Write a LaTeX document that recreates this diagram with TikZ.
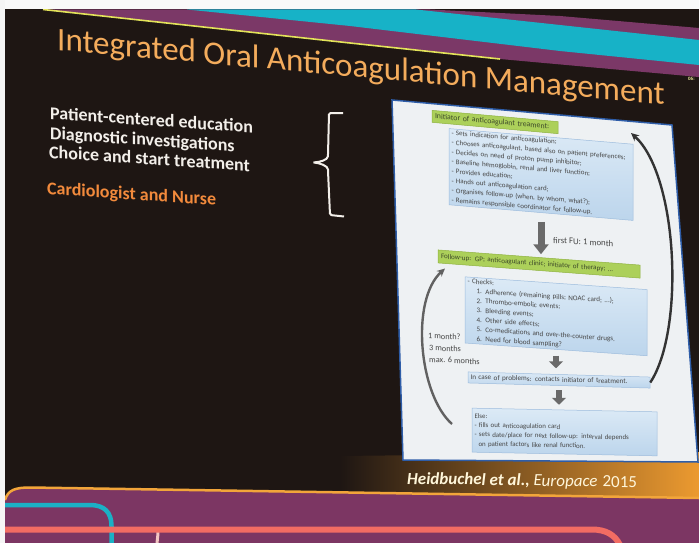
\documentclass[tikz,border=0pt]{standalone}
\usepackage{fontspec}
\setmainfont{Carlito}
\usetikzlibrary{arrows.meta}
\definecolor{bgdark}{HTML}{1E1613}
\definecolor{bandpurple}{HTML}{7B3867}
\definecolor{bandcyan}{HTML}{17B2C7}
\definecolor{lineyellow}{HTML}{E3E35A}
\definecolor{titleor}{HTML}{F4AC5C}
\definecolor{leftwhite}{HTML}{F3EFEA}
\definecolor{cardor}{HTML}{F28A3C}
\definecolor{panelwhite}{HTML}{EEF1F3}
\definecolor{panelblue}{HTML}{2E5DA8}
\definecolor{blueA}{HTML}{DCEAF6}
\definecolor{blueB}{HTML}{BCD5EC}
\definecolor{blueedge}{HTML}{9DBCDD}
\definecolor{greenfill}{HTML}{ACD05A}
\definecolor{greenedge}{HTML}{8FB240}
\definecolor{greentext}{HTML}{3E4A2A}
\definecolor{boxgray}{HTML}{474747}
\definecolor{arrowgray}{HTML}{6A6A6A}
\definecolor{glowor}{HTML}{EC9A30}
\definecolor{glowmid}{HTML}{7A4A1E}
\definecolor{botpurple}{HTML}{7C3663}
\definecolor{lineorange}{HTML}{F2A53A}
\definecolor{botcyan}{HTML}{1BB0C5}
\definecolor{coral}{HTML}{F26C63}
\definecolor{pinkline}{HTML}{F3C6C2}
\definecolor{creamtext}{HTML}{FFF6DA}
\tikzset{
  lefttext/.style={anchor=base west, yslant=-0.068, text=leftwhite,
    font=\fontsize{18}{20}\selectfont\bfseries, inner sep=0pt},
  bluebox/.style={draw=blueedge, line width=0.5pt, top color=blueA,
    bottom color=blueB, inner xsep=2.5pt, inner ysep=1.5pt, align=left,
    text=boxgray, font=\fontsize{7}{9.6}\selectfont,
    execute at begin node={\hyphenpenalty=10000\relax}},
  greenbox/.style={draw=greenedge, line width=0.5pt, fill=greenfill,
    inner xsep=3pt, inner ysep=1pt, align=left, text=greentext},
  fatarrow/.style={draw=arrowgray, line width=7pt,
    -{Triangle[width=15pt,length=10pt]}},
  shortarrow/.style={draw=arrowgray, line width=6.5pt,
    -{Triangle[width=14pt,length=7pt]}},
  looparrow/.style={line width=2.4pt, -{Stealth[length=8pt,width=7.5pt]}},
  sidelabel/.style={anchor=base west, yslant=-0.05, text=boxgray,
    font=\fontsize{8.3}{10}\selectfont, inner sep=0pt}
}
\begin{document}
\begin{tikzpicture}[x=1pt,y=-1pt]
\useasboundingbox (0,0) rectangle (699,543);
% background
\fill[bgdark] (0,0) rectangle (699,543);
% top bands
\fill[bandpurple] (43,9.5) -- (430,9.5) -- (560,16) -- (699,28) -- (699,77)
  -- (500,59) -- (350,43) -- cycle;
\fill[bandcyan] (187,9.5) -- (416,9.5) -- (560,25) -- (699,40) -- (699,65)
  -- (560,51) -- (350,26) -- cycle;
\draw[lineyellow, line width=1.6pt] (43,9.5) -- (350,43) -- (500,59);
\fill[white!95!gray] (0,0) rectangle (699,9.5);
% orange glow under the panel
\shade[left color=bgdark, middle color=glowmid, right color=glowor]
  (340,456) -- (699,452) -- (699,499) -- (340,492) -- cycle;
% bottom purple area and lines
\fill[botpurple] (5,500) .. controls (8,490) and (15,487.5) .. (30,487.5)
  -- (699,498) -- (699,543) -- (5,543) -- cycle;
\draw[lineorange, line width=2.5pt] (5,500) .. controls (8,490) and (15,487.5) .. (30,487.5)
  -- (699,498);
\draw[botcyan, line width=4.5pt] (5,505) -- (90,505) .. controls (104,505) and (111.5,512) .. (111.5,526) -- (111.5,545);
\draw[pinkline, line width=3pt] (158,531) .. controls (158,537) and (157,540) .. (157,545);
\draw[coral, line width=6pt] (5,529.5) -- (592,529.5) .. controls (606,529.5) and (615,535) .. (620,545);
% left white strip
\fill[white!92!gray] (0,0) rectangle (5,543);
% panel
\fill[panelwhite] (392,100) -- (672,125) -- (698,462) -- (403,460) -- cycle;
\draw[panelblue, line width=1.5pt] (392,100) -- (672,125) -- (698,462) -- (403,460) -- cycle;
% title
\node[anchor=base west, yslant=-0.09, text=titleor, inner sep=0pt,
  font=\fontsize{33}{37}\selectfont] (title) at (57,50)
  {Integrated Oral Anticoagulation Management};
% left texts
\node[lefttext] (l1) at (50,119) {Patient-centered education};
\node[lefttext] (l2) at (50,139) {Diagnostic investigations};
\node[lefttext] (l3) at (49,158) {Choice and start treatment};
\node[lefttext, text=cardor] (l4) at (47,194) {Cardiologist and Nurse};
% brace
\draw[leftwhite, line width=2pt, rounded corners=1.5pt]
  (343,113) -- (329,113) -- (328,155)
  .. controls (327.5,160) and (320,162) .. (313,162.5)
  .. controls (320,163) and (328,166) .. (328,171) -- (330,215) -- (344,216.5);
% flowchart boxes
\node[greenbox, yslant=-0.09, minimum width=126pt, minimum height=12pt,
  text width=120pt, font=\fontsize{7.8}{9}\selectfont] (g1) at (495,122)
  {Initiator of anticoagulant treament:};
\node[bluebox, yslant=-0.085, text width=179pt, minimum height=76pt] (b1) at (541,174.5)
  {- Sets indication for anticoagulation;\\
   - Chooses anticoagulant, based also on patient preferences;\\
   - Decides on need of proton pump inhibitor;\\
   - Baseline hemoglobin, renal and liver function;\\
   - Provides education;\\
   - Hands out anticoagulation card;\\
   - Organises follow-up (when, by whom, what?);\\
   - Remains responsible coordinator for follow-up.};
\node[greenbox, yslant=-0.075, minimum width=202pt, minimum height=13pt,
  text width=196pt, font=\fontsize{7.1}{9}\selectfont] (g2) at (539,264)
  {Follow-up: GP; anticoagulant clinic; initiator of therapy; ...};
\node[bluebox, yslant=-0.07, text width=177pt, minimum height=66pt,
  font=\fontsize{7.1}{9.5}\selectfont] (b2) at (556,316.3)
  {- Checks:\\
   \hspace*{9pt}1. Adherence (remaining pills; NOAC card; ...);\\
   \hspace*{9pt}2. Thrombo-embolic events;\\
   \hspace*{9pt}3. Bleeding events;\\
   \hspace*{9pt}4. Other side effects;\\
   \hspace*{9pt}5. Co-medications and over-the-counter drugs.\\
   \hspace*{9pt}6. Need for blood sampling?};
\node[bluebox, yslant=-0.028, text width=177pt, minimum height=11pt,
  inner ysep=1pt, font=\fontsize{7.2}{9}\selectfont] (b3) at (559,380)
  {In case of problems: contacts initiator of treatment.};
\node[bluebox, yslant=-0.02, text width=180pt, minimum height=44pt,
  font=\fontsize{6.9}{9.3}\selectfont] (b4) at (564.5,432)
  {Else:\\
   - fills out anticoagulation card\\
   - sets date/place for next follow-up: interval depends\\
   \hspace*{4pt}on patient factors like renal function.};
% straight connectors
\draw[fatarrow, shorten <=9pt, shorten >=3pt] (b1.south) -- (b1.south |- g2.north);
\node[anchor=base west, yslant=-0.06, text=boxgray, inner sep=0pt,
  font=\fontsize{8.8}{10}\selectfont] (fu) at (553,243) {first FU: 1 month};
\draw[shortarrow, shorten <=6pt, shorten >=6pt] (b2.south) -- (b2.south |- b3.north);
\draw[shortarrow, shorten <=4.5pt, shorten >=5pt] (b3.south) -- (b3.south |- b4.north);
% loop connectors
\coordinate (rtop) at (631,133);
\coordinate (lstart) at (452,424);
\coordinate (ltop) at (445,268.5);
\draw[looparrow, draw=black!80] (b3.east) .. controls (685,330) and (678,175) .. (rtop);
\draw[looparrow, draw=black!62] (lstart) .. controls (419,395) and (410,300) .. (ltop);
\node[sidelabel] (m1) at (428,338.5) {1 month?};
\node[sidelabel] (m2) at (429,350.5) {3 months};
\node[sidelabel] (m3) at (429,362) {max. 6 months};
% reference
\node[anchor=base west, yslant=-0.015, text=creamtext, inner sep=0pt,
  font=\fontsize{17}{20}\selectfont] (ref) at (407,484)
  {{\bfseries\itshape Heidbuchel et al.,} {\itshape Europace}\hspace{5pt}2015};
% clock fragment
\node[anchor=west, text=lineyellow!60!white, inner sep=0pt,
  font=\fontsize{5}{6}\bfseries\selectfont] (clock) at (688,78.5) {06:};
\end{tikzpicture}
\end{document}
